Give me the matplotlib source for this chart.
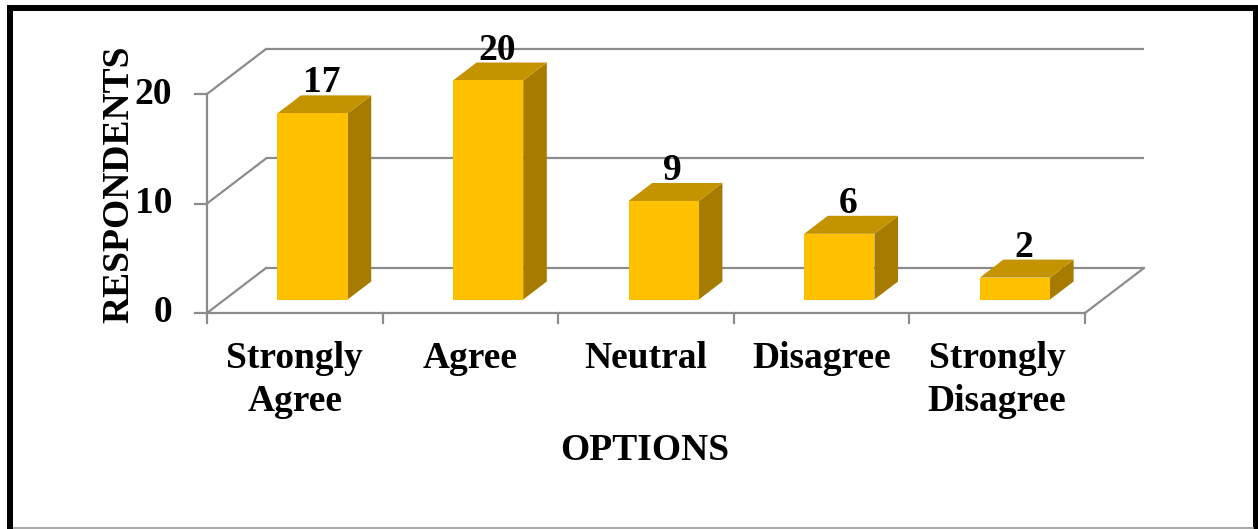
import matplotlib
matplotlib.use("Agg")
import matplotlib.pyplot as plt
from matplotlib.patches import Polygon
from matplotlib.lines import Line2D

# ---- data ----
categories = ["Strongly\nAgree", "Agree", "Neutral", "Disagree", "Strongly\nDisagree"]
values = [17, 20, 9, 6, 2]
yticks = [0, 10, 20]
ylabel = "RESPONDENTS"
xlabel = "OPTIONS"

# ---- styling ----
FRONT = "#FFC000"
TOP = "#C49400"
SIDE = "#A67C00"
GRID = "#8C8C8C"
W, H = 1258, 529
FONT = "Liberation Serif"
FS = 27

fig = plt.figure(figsize=(W / 100, H / 100), dpi=100)
ax = fig.add_axes([0, 0, 1, 1])
ax.axis("off")

# pixel mapping of the front plane: x=0 -> 207px, x=5 -> 1085px ; y=0 -> 313px, 10.95 px/unit
X0PX, CATPX = 207, 175.6
Y0PX, UNITPX = 313, 10.95
ax.set_xlim(-X0PX / CATPX, (W - X0PX) / CATPX)
ax.set_ylim((Y0PX - H) / UNITPX, Y0PX / UNITPX)

DX = 59 / CATPX   # depth offset in category units
DY = 45 / UNITPX  # depth offset in value units
n = len(values)
ymax = max(yticks)


def P(x, y, d):
    return (x + d * DX, y + d * DY)


def fpos(px, py):
    return (px / W, 1 - py / H)


# ---- walls / gridlines ----
glw = 1.6
for t in yticks:
    a, b = P(0, t, 1), P(n, t, 1)
    ax.plot([a[0], b[0]], [a[1], b[1]], color=GRID, lw=glw, zorder=1, solid_capstyle="butt")
    a, b = P(0, t, 0), P(0, t, 1)
    ax.plot([a[0], b[0]], [a[1], b[1]], color=GRID, lw=glw, zorder=1)
    # y tick
    ax.plot([-12 / CATPX, 0], [t, t], color=GRID, lw=glw, zorder=1)
    ax.text(-35 / CATPX, t, str(t), ha="right", va="center", fontsize=FS,
            fontweight="bold", family=FONT, color="black")

ax.plot([0, 0], [0, ymax], color=GRID, lw=glw, zorder=1)
ax.plot([0, n], [0, 0], color=GRID, lw=glw, zorder=1)
a, b = P(n, 0, 0), P(n, 0, 1)
ax.plot([a[0], b[0]], [a[1], b[1]], color=GRID, lw=glw, zorder=1)
for i in range(n + 1):
    ax.plot([i, i], [0, -10 / UNITPX], color=GRID, lw=glw, zorder=1)

# ---- bars ----
bw0, bw1 = 0.3, 0.7
d0, d1 = 0.3, 0.7
for i, v in enumerate(values):
    x0, x1 = i + bw0, i + bw1
    front = [P(x0, 0, d0), P(x1, 0, d0), P(x1, v, d0), P(x0, v, d0)]
    top = [P(x0, v, d0), P(x1, v, d0), P(x1, v, d1), P(x0, v, d1)]
    side = [P(x1, 0, d0), P(x1, 0, d1), P(x1, v, d1), P(x1, v, d0)]
    ax.add_patch(Polygon(side, closed=True, facecolor=SIDE, edgecolor="none", zorder=3))
    ax.add_patch(Polygon(top, closed=True, facecolor=TOP, edgecolor="none", zorder=3))
    ax.add_patch(Polygon(front, closed=True, facecolor=FRONT, edgecolor="none", zorder=4))
    lx, _ = P(i + 0.5, v, 0.45)
    ly = v + d1 * DY + 3 / UNITPX
    ax.text(lx, ly, str(v), ha="center", va="baseline", fontsize=FS,
            fontweight="bold", family=FONT, color="black", zorder=5)
    # category labels
    ax.text(i + 0.5, (Y0PX - 341) / UNITPX, categories[i], ha="center", va="top",
            fontsize=FS, fontweight="bold", family=FONT, color="black",
            linespacing=1.28)

# ---- axis titles ----
fig.text(*fpos(119, 184), ylabel, rotation=90, ha="center", va="center",
         fontsize=FS, fontweight="bold", family=FONT)
fig.text(*fpos(644.5, 460), xlabel, ha="center", va="baseline",
         fontsize=FS, fontweight="bold", family=FONT)

# ---- outer border ----
blw = 6 * 72 / 100
fig.add_artist(Line2D([10 / W, 10 / W], [0, 1 - 5 / H], transform=fig.transFigure,
                      color="black", lw=blw, solid_capstyle="butt"))
fig.add_artist(Line2D([7 / W, 1], [1 - 7.5 / H, 1 - 7.5 / H], transform=fig.transFigure,
                      color="black", lw=blw, solid_capstyle="butt"))
fig.add_artist(Line2D([1256 / W, 1256 / W], [0, 1 - 5 / H], transform=fig.transFigure,
                      color="black", lw=blw, solid_capstyle="butt"))
fig.add_artist(Line2D([13 / W, 1254 / W], [1.2 / H, 1.2 / H], transform=fig.transFigure,
                      color="#999999", lw=1.2, solid_capstyle="butt"))

fig.savefig("out.png", dpi=100)
